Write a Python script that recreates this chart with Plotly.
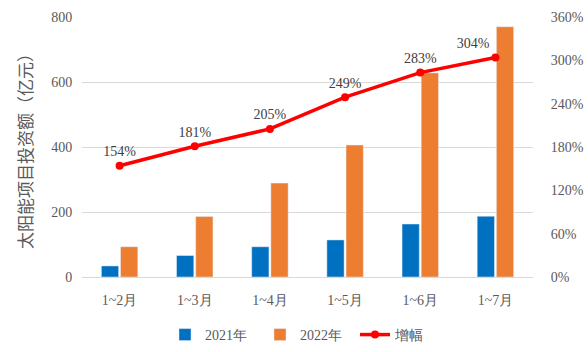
import plotly.graph_objects as go

categories = ["1~2月", "1~3月", "1~4月", "1~5月", "1~6月", "1~7月"]
v2021 = [34, 66, 93, 114, 163, 187]
v2022 = [93, 186, 289, 406, 628, 770]
growth = [154, 181, 205, 249, 283, 304]
growth_labels = ["154%", "181%", "205%", "249%", "283%", "304%"]
label_positions = ["top center", "top center", "top center", "top center", "top center", "top left"]

serif = "'Liberation Serif', 'DejaVu Serif', serif"
cjk = "'Noto Sans CJK SC', sans-serif"
grey = "#595959"

fig = go.Figure()
fig.add_trace(go.Bar(x=categories, y=v2021, name="2021年", marker_color="#0070C0"))
fig.add_trace(go.Bar(x=categories, y=v2022, name="2022年", marker_color="#ED7D31"))
fig.add_trace(go.Scatter(
    x=categories, y=growth, name="增幅", yaxis="y2",
    mode="lines+markers+text", line=dict(color="#FF0000", width=3.5),
    marker=dict(color="#FF0000", size=8),
    text=growth_labels, textposition=label_positions,
    textfont=dict(family=serif, size=14, color="#404040"),
))

fig.update_layout(
    width=588, height=352,
    margin=dict(l=82, r=55, t=17, b=75, autoexpand=False),
    plot_bgcolor="white", paper_bgcolor="white",
    barmode="group", bargap=0.49, bargroupgap=0.1,
    font=dict(family=serif, size=14, color=grey),
    xaxis=dict(showgrid=False, showline=True, linecolor="#D9D9D9", linewidth=1,
               ticks="outside", ticklen=10, tickcolor="rgba(0,0,0,0)",
               tickfont=dict(family=serif, size=14, color=grey)),
    yaxis=dict(range=[0, 800], tickvals=[0, 200, 400, 600, 800], gridcolor="#D9D9D9",
               zeroline=False, showline=False, ticks="outside", ticklen=6, tickcolor="rgba(0,0,0,0)",
               tickfont=dict(family=serif, size=14, color=grey),
               title=dict(text="太阳能项目投资额（亿元）", font=dict(family=cjk, size=17, color=grey), standoff=14)),
    yaxis2=dict(range=[0, 360], tickvals=[0, 60, 120, 180, 240, 300, 360],
                ticktext=["0%", "60%", "120%", "180%", "240%", "300%", "360%"],
                overlaying="y", side="right", showgrid=False, zeroline=False,
                ticks="outside", ticklen=14, tickcolor="rgba(0,0,0,0)",
                tickfont=dict(family=serif, size=14, color=grey)),
    legend=dict(orientation="h", x=0.5, xanchor="center", y=-0.223, yanchor="middle",
                entrywidth=50, font=dict(family=serif, size=14, color=grey)),
    showlegend=True,
)

fig.write_html("out.html")
